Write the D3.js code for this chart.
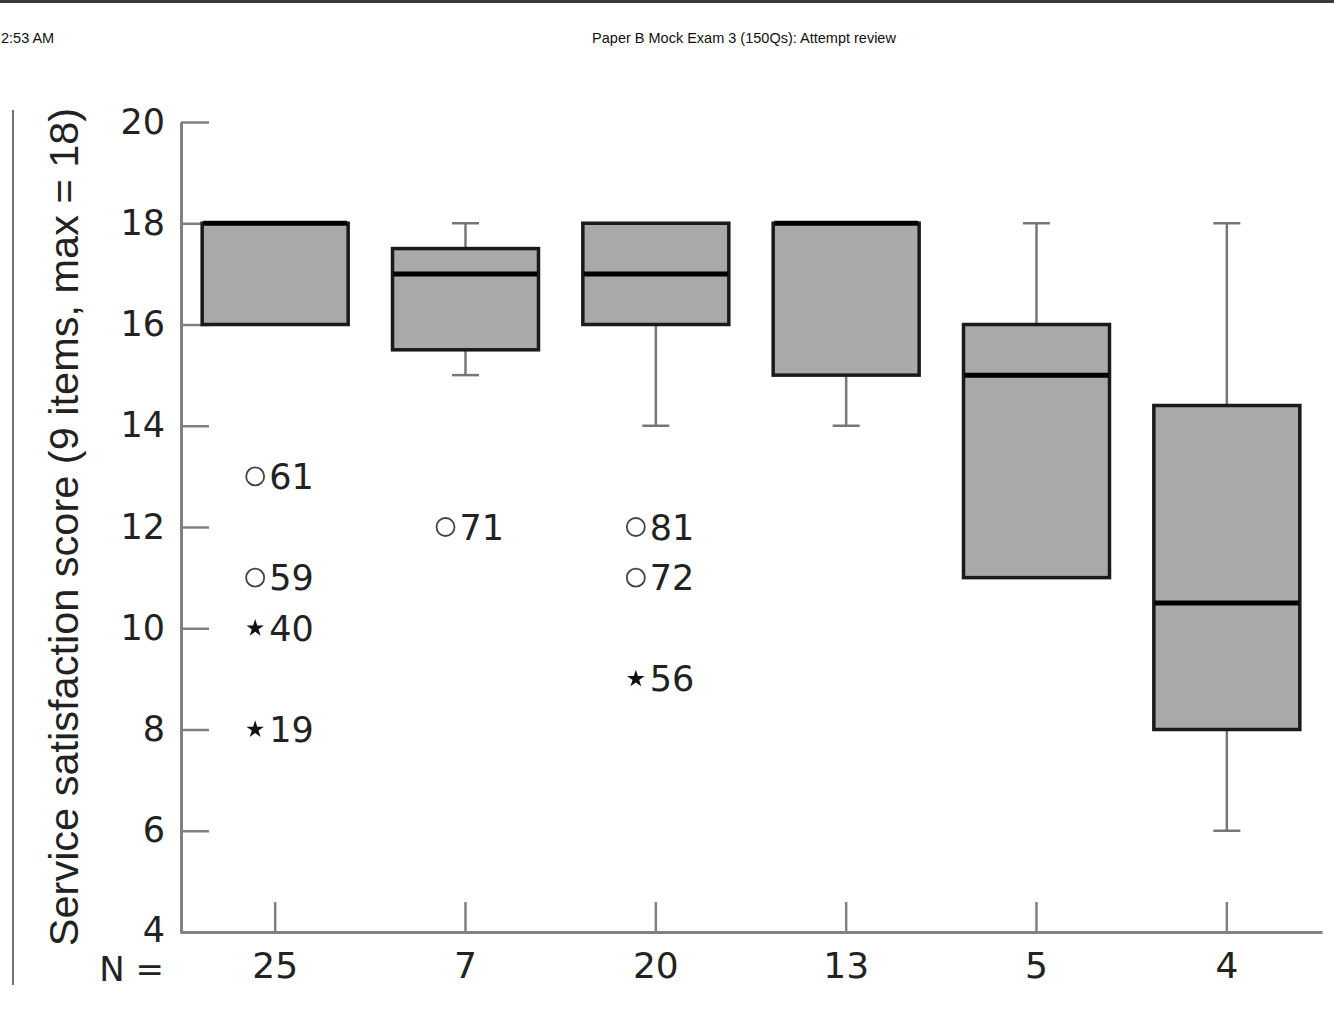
<!DOCTYPE html>
<html>
<head>
<meta charset="utf-8">
<script src="https://cdn.jsdelivr.net/npm/d3@7"></script>
<style>
  body { margin: 0; background: #fff; }
  svg { display: block; }
</style>
</head>
<body>
<script>
// group sizes shown under the x axis
var groups = ["25", "7", "20", "13", "5", "4"];

// box plot summary per group
var whiskerLow = [16, 15, 14, 14, 11, 6];
var q1 = [16, 15.5, 16, 15, 11, 8];
var median = [18, 17, 17, 18, 15, 10.5];
var q3 = [18, 17.5, 18, 18, 16, 14.4];
var whiskerHigh = [18, 18, 18, 18, 18, 18];

// outliers (o) and extremes (*)
var outlierGroup = [0, 0, 0, 0, 1, 2, 2, 2];
var outlierValue = [13, 11, 10, 8, 12, 12, 11, 9];
var outlierCase = ["61", "59", "40", "19", "71", "81", "72", "56"];
var outlierType = ["o", "o", "*", "*", "o", "o", "o", "*"];

var yTicks = [4, 6, 8, 10, 12, 14, 16, 18, 20];
var yTitle = "Service satisfaction score (9 items, max = 18)";

var w = 1334;
var h = 1027;
var plotLeft = 180, plotRight = 1322, plotTop = 122, plotBottom = 932;

var svg = d3.select("body")
    .append("svg")
    .attr("width", w)
    .attr("height", h);

// page header bits
svg.append("rect")
    .attr("x", 0).attr("y", 0)
    .attr("width", w).attr("height", 3)
    .attr("fill", "#3a3a3a");
svg.append("text")
    .attr("x", 1).attr("y", 43)
    .attr("font-family", "Liberation Sans, Arial, sans-serif")
    .attr("font-size", 14.5)
    .attr("fill", "#111")
    .text("2:53 AM");
svg.append("text")
    .attr("x", 744).attr("y", 43)
    .attr("text-anchor", "middle")
    .attr("font-family", "Liberation Sans, Arial, sans-serif")
    .attr("font-size", 14.5)
    .attr("fill", "#111")
    .text("Paper B Mock Exam 3 (150Qs): Attempt review");

// left border of the cropped figure
svg.append("line")
    .attr("x1", 13).attr("x2", 13)
    .attr("y1", 110).attr("y2", 985)
    .attr("stroke", "#444")
    .attr("stroke-width", 1.5);

//Create scale functions
var idx = d3.range(groups.length);
var xScale = d3.scaleBand()
    .domain(idx)
    .range([plotLeft, plotRight])
    .paddingInner(0.233)
    .paddingOuter(0.1165);
var yScale = d3.scaleLinear()
    .domain([4, 20])
    .range([plotBottom, plotTop]);

var cx = function (i) { return xScale(i) + xScale.bandwidth() / 2; };
var bw = xScale.bandwidth();
var capW = 27;

//Y axis
var yAxis = d3.axisLeft(yScale)
    .tickValues(yTicks)
    .tickSizeInner(-28)
    .tickSizeOuter(0)
    .tickPadding(16);
var gy = svg.append("g")
    .attr("transform", "translate(" + (plotLeft + 1) + ",0)")
    .call(yAxis);
gy.select(".domain").attr("stroke", "#808080").attr("stroke-width", 3);
gy.selectAll(".tick line").attr("stroke", "#808080").attr("stroke-width", 2.5);
gy.selectAll(".tick text")
    .attr("font-family", "DejaVu Sans, sans-serif")
    .attr("font-size", 35)
    .attr("fill", "#222");
// bottom tick label sits a touch higher, as in the source
gy.selectAll(".tick text").filter(function (d) { return d === 4; })
    .attr("dy", "0.26em");

//X axis
var xAxis = d3.axisBottom(xScale)
    .tickFormat(function (i) { return groups[i]; })
    .tickSizeInner(-30)
    .tickSizeOuter(0)
    .tickPadding(20);
var gx = svg.append("g")
    .attr("transform", "translate(0," + plotBottom + ")")
    .call(xAxis);
gx.select(".domain").attr("stroke", "#808080").attr("stroke-width", 3);
gx.selectAll(".tick line").attr("stroke", "#808080").attr("stroke-width", 2.5);
gx.selectAll(".tick text")
    .attr("font-family", "DejaVu Sans, sans-serif")
    .attr("font-size", 36)
    .attr("fill", "#222");

svg.append("text")
    .attr("x", 164).attr("y", 981)
    .attr("text-anchor", "end")
    .attr("font-family", "DejaVu Sans, sans-serif")
    .attr("font-size", 34)
    .attr("fill", "#222")
    .text("N =");

//Y title
svg.append("text")
    .attr("transform", "translate(78,527) rotate(-90)")
    .attr("text-anchor", "middle")
    .attr("font-family", "Liberation Sans, Arial, sans-serif")
    .attr("font-size", 41.5)
    .attr("fill", "#222")
    .text(yTitle);

//Whiskers
var wg = svg.append("g")
    .attr("stroke", "#777")
    .attr("stroke-width", 2.5);
idx.forEach(function (i) {
    if (whiskerHigh[i] > q3[i]) {
        wg.append("line")
            .attr("x1", cx(i)).attr("x2", cx(i))
            .attr("y1", yScale(whiskerHigh[i])).attr("y2", yScale(q3[i]));
        wg.append("line")
            .attr("x1", cx(i) - capW / 2).attr("x2", cx(i) + capW / 2)
            .attr("y1", yScale(whiskerHigh[i])).attr("y2", yScale(whiskerHigh[i]));
    }
    if (whiskerLow[i] < q1[i]) {
        wg.append("line")
            .attr("x1", cx(i)).attr("x2", cx(i))
            .attr("y1", yScale(whiskerLow[i])).attr("y2", yScale(q1[i]));
        wg.append("line")
            .attr("x1", cx(i) - capW / 2).attr("x2", cx(i) + capW / 2)
            .attr("y1", yScale(whiskerLow[i])).attr("y2", yScale(whiskerLow[i]));
    }
});

//Boxes
svg.selectAll("rect.box")
    .data(idx)
    .enter()
    .append("rect")
    .attr("class", "box")
    .attr("x", function (i) { return xScale(i); })
    .attr("y", function (i) { return yScale(q3[i]); })
    .attr("width", bw)
    .attr("height", function (i) { return yScale(q1[i]) - yScale(q3[i]); })
    .attr("fill", "#a9a9a9")
    .attr("stroke", "#1a1a1a")
    .attr("stroke-width", 3.5);

//Medians
svg.selectAll("line.median")
    .data(idx)
    .enter()
    .append("line")
    .attr("class", "median")
    .attr("x1", function (i) { return xScale(i) + 1; })
    .attr("x2", function (i) { return xScale(i) + bw - 1; })
    .attr("y1", function (i) { return yScale(median[i]); })
    .attr("y2", function (i) { return yScale(median[i]); })
    .attr("stroke", "#000")
    .attr("stroke-width", 5);

//Outliers
var og = svg.append("g");
outlierValue.forEach(function (v, k) {
    var x0 = cx(outlierGroup[k]) - 20;
    var y0 = yScale(v);
    if (outlierType[k] === "o") {
        og.append("circle")
            .attr("cx", x0).attr("cy", y0)
            .attr("r", 9)
            .attr("fill", "none")
            .attr("stroke", "#444")
            .attr("stroke-width", 1.8);
    } else {
        og.append("path")
            .attr("transform", "translate(" + x0 + "," + y0 + ")")
            .attr("d", d3.symbol().type(d3.symbolStar).size(95)())
            .attr("fill", "#111");
    }
    og.append("text")
        .attr("x", x0 + 14).attr("y", y0)
        .attr("dy", "0.36em")
        .attr("font-family", "DejaVu Sans, sans-serif")
        .attr("font-size", 35)
        .attr("fill", "#222")
        .text(outlierCase[k]);
});
</script>
</body>
</html>
